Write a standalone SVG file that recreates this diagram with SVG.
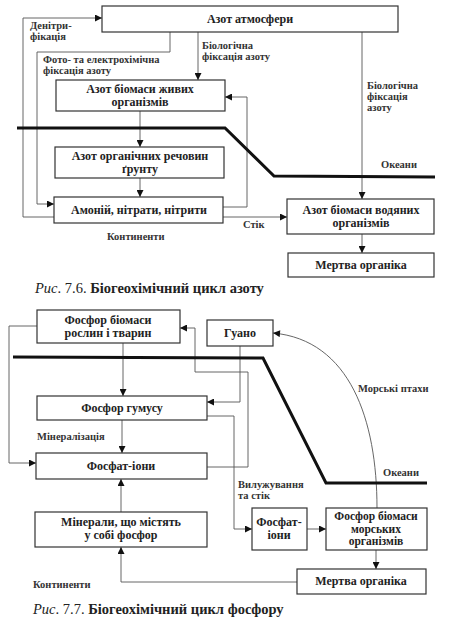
<svg xmlns="http://www.w3.org/2000/svg" width="461" height="625" viewBox="0 0 461 625">
<defs>
<marker id="ah" viewBox="0 0 10 10" refX="10" refY="5" markerWidth="9" markerHeight="7" orient="auto" markerUnits="userSpaceOnUse"><path d="M0,0 L10,5 L0,10 z" fill="#111"/></marker>
<style>
.bg{fill:#fff}
.box{fill:#fff;stroke:#333;stroke-width:1.2}
.ca{fill:none;stroke:#555;stroke-width:0.9;marker-end:url(#ah)}
.thick{fill:none;stroke:#111;stroke-width:3}
.t{font-family:"Liberation Serif","DejaVu Serif",serif;font-size:12px;font-weight:bold;fill:#222;text-anchor:middle}
.t2{font-family:"Liberation Serif","DejaVu Serif",serif;font-size:11.5px;font-weight:bold;fill:#222;text-anchor:middle}
.s{font-family:"Liberation Serif","DejaVu Serif",serif;font-size:10.5px;font-weight:bold;fill:#333}
.cap{font-family:"Liberation Serif","DejaVu Serif",serif;font-size:14.5px;font-weight:bold;fill:#222}
</style>
</defs>
<rect class="bg" x="0" y="0" width="461" height="625"/>

<g id="connectors">
<path class="ca" d="M54,217 H23 V18 H102"/>
<path class="ca" d="M170,32 V52 H37 V204 H54"/>
<path class="ca" d="M198,32 V80"/>
<path class="ca" d="M223,207 H247 V97 H225"/>
<path class="ca" d="M140,111 V147"/>
<path class="ca" d="M140,178 V197"/>
<path class="ca" d="M223,217 H287"/>
<path class="ca" d="M362,32 V199"/>
<path class="ca" d="M362,234 V253"/>

<path class="ca" d="M37,326 H9 V463 H36"/>
<path class="ca" d="M123,343 V396"/>
<path class="ca" d="M122,420 V453"/>
<path class="ca" d="M121,512 V479"/>
<path class="ca" d="M297,582 H121 V547"/>
<path class="ca" d="M207,467 H248 V372 H195 V328 H180"/>
<path class="ca" d="M240,346 V402 H207"/>
<path class="ca" d="M207,416 H234 V529 H252"/>
<path class="ca" d="M307,529 H326"/>
<path class="ca" d="M376,550 V569"/>
<path class="ca" d="M377,508 C377,420 350,340 273,333"/>
</g>

<g id="boundaries">
<path class="thick" d="M17,128 L225,128 L274,176 L435,177"/>
<path class="thick" d="M13,357 L263,358 L326,483 L427,483"/>
</g>

<g id="n-atm"><rect class="box" x="102" y="6" width="296" height="26"/><text class="t" x="250" y="23">Азот атмосфери</text></g>
<g id="n-bio"><rect class="box" x="56" y="80" width="169" height="31"/><text class="t" x="140" y="93">Азот біомаси живих</text><text class="t" x="140" y="106">організмів</text></g>
<g id="n-org"><rect class="box" x="55" y="147" width="169" height="31"/><text class="t" x="140" y="160">Азот органічних речовин</text><text class="t" x="140" y="173">ґрунту</text></g>
<g id="n-amm"><rect class="box" x="54" y="197" width="169" height="26"/><text class="t" x="139" y="214">Амоній, нітрати, нітрити</text></g>
<g id="n-aq"><rect class="box" x="287" y="199" width="147" height="35"/><text class="t" x="361" y="214">Азот біомаси водяних</text><text class="t" x="361" y="227">організмів</text></g>
<g id="n-dead"><rect class="box" x="288" y="253" width="146" height="24"/><text class="t" x="361" y="269">Мертва органіка</text></g>

<g id="n-labels">
<text class="s" x="30" y="29">Денітри-</text>
<text class="s" x="30" y="40">фікація</text>
<text class="s" x="43" y="63">Фото- та електрохімічна</text>
<text class="s" x="43" y="74">фіксація азоту</text>
<text class="s" x="202" y="49">Біологічна</text>
<text class="s" x="202" y="60">фіксація азоту</text>
<text class="s" x="367" y="89">Біологічна</text>
<text class="s" x="367" y="100">фіксація</text>
<text class="s" x="367" y="111">азоту</text>
<text class="s" x="381" y="168">Океани</text>
<text class="s" x="243" y="228">Стік</text>
<text class="s" x="107" y="240">Континенти</text>
</g>
<text class="cap" x="35" y="293"><tspan font-style="italic" font-weight="normal">Рис</tspan><tspan font-weight="normal">. 7.6. </tspan>Біогеохімічний цикл азоту</text>

<g id="p-bio"><rect class="box" x="37" y="310" width="143" height="33"/><text class="t" x="108" y="324">Фосфор біомаси</text><text class="t" x="108" y="337">рослин і тварин</text></g>
<g id="p-guano"><rect class="box" x="207" y="320" width="66" height="26"/><text class="t" x="240" y="337">Гуано</text></g>
<g id="p-hum"><rect class="box" x="37" y="396" width="170" height="24"/><text class="t" x="122" y="412">Фосфор гумусу</text></g>
<g id="p-ions"><rect class="box" x="36" y="453" width="171" height="26"/><text class="t" x="121" y="470">Фосфат-іони</text></g>
<g id="p-min"><rect class="box" x="35" y="512" width="172" height="35"/><text class="t" x="121" y="526">Мінерали, що містять</text><text class="t" x="121" y="539">у собі фосфор</text></g>
<g id="p-ions2"><rect class="box" x="252" y="508" width="55" height="42"/><text class="t" x="279" y="526">Фосфат-</text><text class="t" x="279" y="539">іони</text></g>
<g id="p-mar"><rect class="box" x="326" y="508" width="101" height="42"/><text class="t2" x="376" y="520">Фосфор біомаси</text><text class="t2" x="376" y="532.5">морських</text><text class="t2" x="376" y="545">організмів</text></g>
<g id="p-dead"><rect class="box" x="297" y="569" width="129" height="25"/><text class="t" x="361" y="585">Мертва органіка</text></g>

<g id="p-labels">
<text class="s" x="37" y="440">Мінералізація</text>
<text class="s" x="358" y="392">Морські птахи</text>
<text class="s" x="383" y="476">Океани</text>
<text class="s" x="238" y="488">Вилужування</text>
<text class="s" x="238" y="499">та стік</text>
<text class="s" x="33" y="588">Континенти</text>
</g>
<text class="cap" x="33" y="614"><tspan font-style="italic" font-weight="normal">Рис</tspan><tspan font-weight="normal">. 7.7. </tspan>Біогеохімічний цикл фосфору</text>
</svg>
